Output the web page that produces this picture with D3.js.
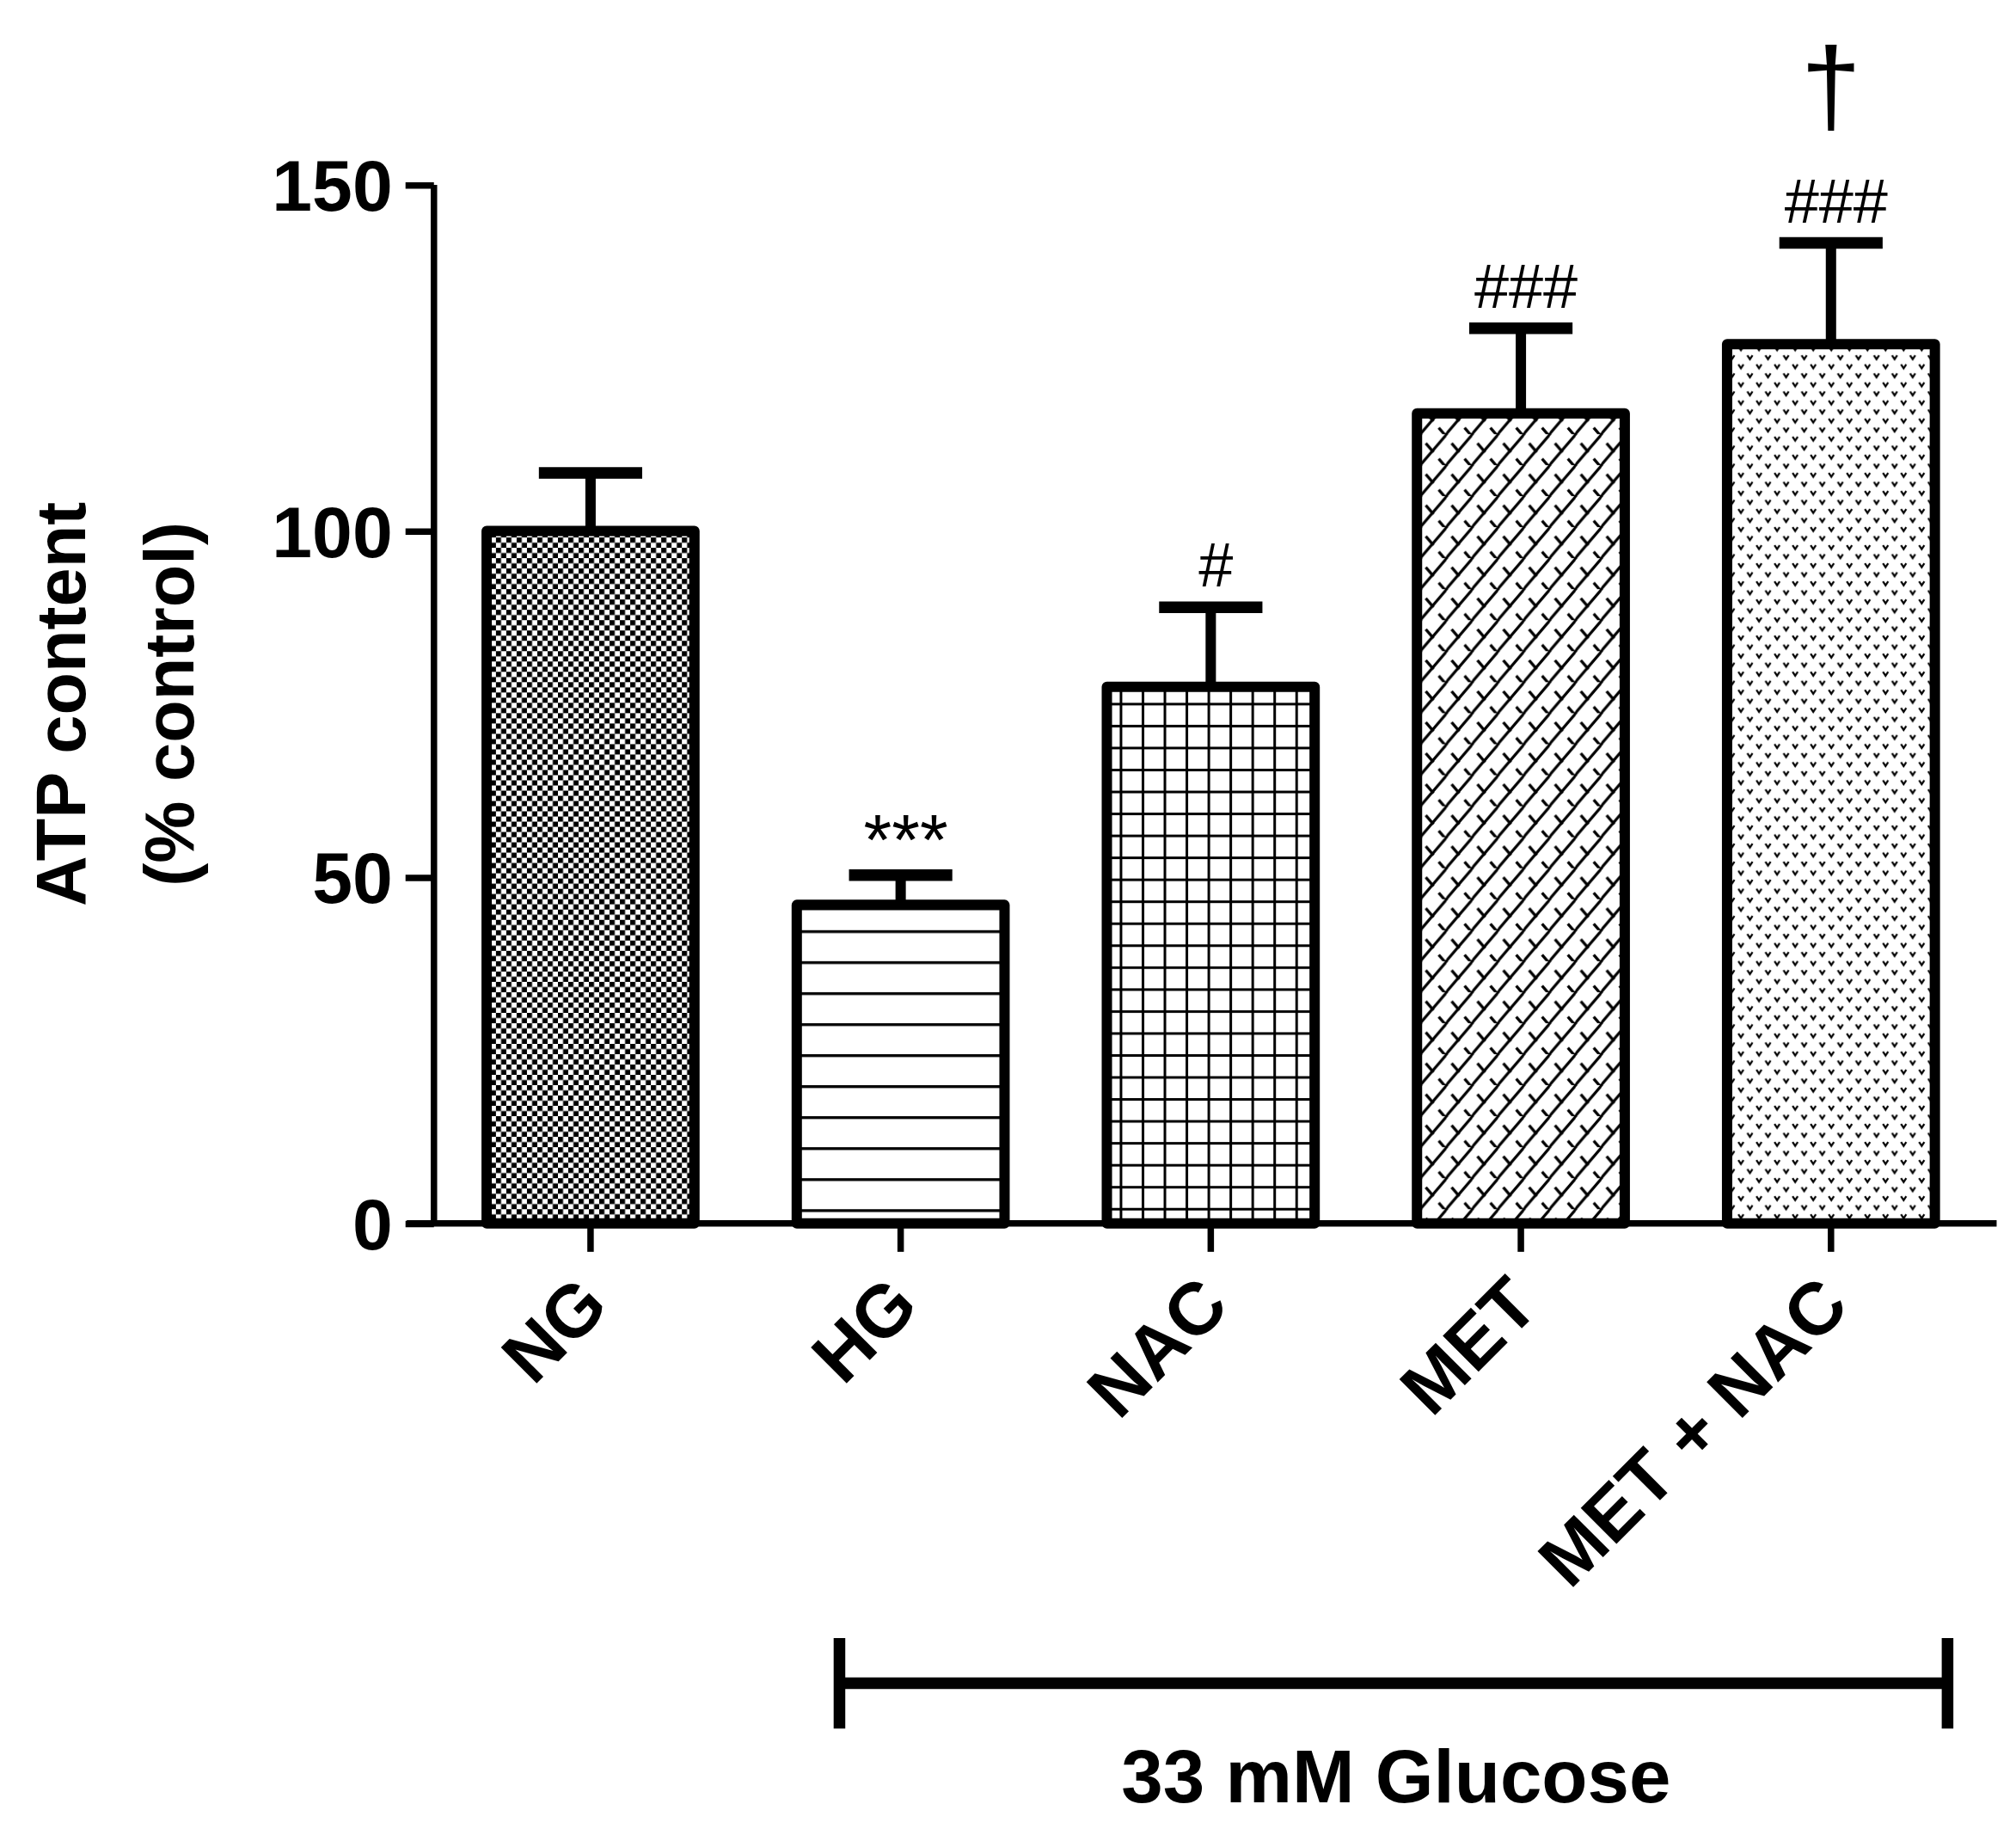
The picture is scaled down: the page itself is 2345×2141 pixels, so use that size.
<!DOCTYPE html>
<html><head><meta charset="utf-8">
<script src="https://cdn.jsdelivr.net/npm/d3@7"></script>
<style>body{margin:0;background:#fff}</style>
</head><body>
<script>
const categories = ["NG","HG","NAC","MET","MET + NAC"];
const means = [100, 46, 77.5, 117, 127];
const errors = [8.4, 4.3, 11.5, 12.3, 14.6];
const annotations = ["", "***", "#", "###", "###"];
const yTicks = [0,50,100,150];

const W=1561,H=1425;
const svg=d3.select("body").append("svg").attr("width",2345).attr("height",2141)
  .attr("viewBox",`0 0 ${W} ${H}`);
const defs=svg.append("defs");
function pat(id,w,h,draw){const p=defs.append("pattern").attr("id",id).attr("patternUnits","userSpaceOnUse").attr("width",w).attr("height",h);
  p.append("rect").attr("width",w).attr("height",h).attr("fill","#fff");draw(p);}
pat("p0",8,8,p=>{p.append("rect").attr("width",4).attr("height",4);p.append("rect").attr("x",4).attr("y",4).attr("width",4).attr("height",4);});
pat("p1",10,24,p=>{p.append("rect").attr("y",0).attr("width",10).attr("height",2.2);});
pat("p2",17,17,p=>{p.append("rect").attr("width",17).attr("height",2);p.append("rect").attr("width",2).attr("height",17);});
pat("p3",20,24,p=>{p.append("path").attr("d","M-2,26 L22,-2 M-12,14 L12,-14 M8,38 L32,10 M4,7 L10,14 M14,19 L20,26").attr("stroke","#000").attr("stroke-width",2.2).attr("fill","none");});
pat("p4",14,14,p=>{p.append("path").attr("d","M2,2 L4,5 L6,2 M9,9 L11,12 L13,9").attr("stroke","#000").attr("stroke-width",1.5).attr("fill","none");});

const x=d3.scaleBand().domain(categories).range([336,1539]).paddingInner(0.33).paddingOuter(0.17);
const y=d3.scaleLinear().domain([0,150]).range([947,143]);
const F="Liberation Sans, Arial";

const g=svg.append("g");
g.selectAll(".eb").data(categories).enter().append("g").each(function(c,i){
  const cx=x(c)+x.bandwidth()/2, s=d3.select(this);
  s.append("line").attr("x1",cx).attr("x2",cx).attr("y1",y(means[i])).attr("y2",y(means[i]+errors[i])).attr("stroke","#000").attr("stroke-width",8);
  s.append("line").attr("x1",cx-40).attr("x2",cx+40).attr("y1",y(means[i]+errors[i])).attr("y2",y(means[i]+errors[i])).attr("stroke","#000").attr("stroke-width",9);
  s.append("text").attr("x",cx+4).attr("y",y(means[i]+errors[i])-(i==1?8:16)).attr("text-anchor","middle")
   .attr("font-family",F).attr("font-size",i==1?56:48).text(annotations[i]);
});
g.selectAll(".bar").data(categories).enter().append("rect")
 .attr("x",c=>x(c)).attr("width",x.bandwidth())
 .attr("y",(c,i)=>y(means[i])).attr("height",(c,i)=>y(0)-y(means[i]))
 .attr("fill",(c,i)=>`url(#p${i})`).attr("stroke","#000").attr("stroke-width",8).attr("stroke-linejoin","round");
const cl=x(categories[4])+x.bandwidth()/2;
svg.append("text").attr("x",cl).attr("y",96).attr("text-anchor","middle").attr("font-family",F).attr("font-size",84).text("†");

const ya=svg.append("g").attr("transform","translate(336,0)").call(d3.axisLeft(y).tickValues(yTicks).tickSize(22).tickPadding(10));
ya.select(".domain").attr("d",`M0,${y(150)}V${y(0)}`).attr("stroke-width",5);
ya.selectAll(".tick line").attr("stroke-width",5);
ya.selectAll("text").attr("font-family",F).attr("font-weight","bold").attr("font-size",56).attr("dy","0.35em");
const xa=svg.append("g").attr("transform",`translate(0,${y(0)})`).call(d3.axisBottom(x).tickSize(22).tickFormat(""));
xa.select(".domain").attr("d","M315,0H1546").attr("stroke-width",5);
xa.selectAll(".tick line").attr("stroke-width",5);
xa.selectAll(".tick").append("text").attr("fill","#000").attr("text-anchor","end")
  .attr("font-family",F).attr("font-weight","bold").attr("font-size",57)
  .attr("transform","translate(16,66) rotate(-45)").text(d=>d);

const yl=svg.append("text").attr("transform","translate(66,545) rotate(-90)").attr("text-anchor","middle")
 .attr("font-family",F).attr("font-weight","bold").attr("font-size",54);
yl.append("tspan").attr("x",0).attr("dy",0).text("ATP content");
yl.append("tspan").attr("x",0).attr("dy",84).text("(% control)");

const br=svg.append("g").attr("stroke","#000").attr("stroke-width",9);
br.append("line").attr("x1",650).attr("x2",1508).attr("y1",1303).attr("y2",1303);
br.append("line").attr("x1",650).attr("x2",650).attr("y1",1268).attr("y2",1338);
br.append("line").attr("x1",1508).attr("x2",1508).attr("y1",1268).attr("y2",1338);
svg.append("text").attr("x",1081).attr("y",1395).attr("text-anchor","middle").attr("font-family",F)
 .attr("font-weight","bold").attr("font-size",58).text("33 mM Glucose");
</script></body></html>
